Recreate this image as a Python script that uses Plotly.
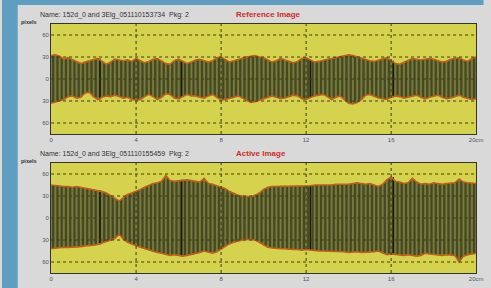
import plotly.graph_objects as go

# ---------------- data ----------------
positions = [round(i * 0.2, 1) for i in range(101)]  # cm

ref_upper = [32, 33, 31, 27, 29, 26, 24, 21, 23, 25,
             27, 28, 24, 20, 23, 27, 26, 25, 26, 24,
             28, 25, 22, 24, 27, 28, 25, 21, 20, 25,
             27, 24, 21, 23, 26, 27, 25, 23, 25, 29,
             30, 26, 23, 25, 27, 29, 30, 31, 32, 30,
             29, 26, 23, 25, 28, 26, 24, 22, 24, 28,
             29, 26, 23, 24, 26, 27, 28, 29, 30, 32,
             33, 32, 30, 28, 26, 25, 24, 26, 28, 29,
             25, 21, 20, 23, 26, 28, 27, 26, 27, 28,
             27, 25, 23, 24, 27, 28, 29, 26, 24, 28, 30]

ref_lower = [33, 31, 30, 28, 24, 23, 26, 25, 19, 18,
             24, 28, 25, 23, 24, 22, 24, 26, 25, 28,
             29, 28, 24, 21, 24, 28, 25, 20, 21, 26,
             27, 24, 21, 23, 23, 25, 26, 23, 21, 25,
             29, 28, 27, 25, 23, 26, 30, 32, 31, 29,
             27, 25, 23, 25, 27, 26, 24, 22, 23, 27,
             28, 25, 23, 22, 21, 24, 28, 25, 23, 28,
             33, 34, 32, 28, 22, 21, 24, 26, 27, 28,
             25, 23, 24, 26, 25, 23, 22, 25, 27, 25,
             23, 22, 25, 27, 26, 24, 22, 25, 27, 28, 27]

act_upper = [45, 44, 44, 43, 43, 42, 43, 42, 41, 40,
             39, 38, 36, 34, 31, 27, 23, 28, 32, 34,
             36, 39, 42, 45, 47, 48, 50, 58, 51, 50,
             51, 52, 52, 51, 50, 49, 54, 47, 46, 44,
             43, 40, 36, 33, 31, 30, 30, 29, 31, 34,
             39, 42, 43, 43, 44, 44, 43, 44, 44, 43,
             44, 44, 45, 45, 44, 45, 45, 46, 46, 45,
             46, 47, 48, 47, 46, 47, 45, 43, 46, 52,
             56, 50, 49, 47, 48, 54, 49, 46, 47, 46,
             48, 47, 46, 47, 48, 48, 53, 49, 48, 48, 47]

act_lower = [42, 41, 41, 40, 40, 40, 39, 39, 38, 38,
             37, 36, 34, 32, 31, 28, 22, 29, 33, 36,
             38, 40, 42, 44, 46, 47, 48, 49, 51, 50,
             51, 52, 51, 50, 49, 47, 45, 47, 48, 46,
             42, 38, 35, 33, 31, 30, 29, 29, 30, 33,
             37, 40, 41, 42, 42, 42, 43, 43, 43, 44,
             43, 44, 44, 45, 45, 45, 46, 46, 46, 46,
             47, 46, 46, 47, 47, 47, 46, 45, 48, 50,
             49, 50, 50, 51, 50, 51, 52, 51, 48, 49,
             50, 50, 51, 50, 50, 51, 60, 52, 50, 49, 48]

marker_cm = [2.3, 6.15, 12.2, 16.1]
x_tick_vals = [0, 4, 8, 12, 16, 20]
x_tick_text = ["0", "4", "8", "12", "16", "20cm"]
y_tick_vals = [-60, -30, 0, 30, 60]
y_tick_text = ["60", "30", "0", "30", "60"]
grid_x = [4, 8, 12, 16]
grid_y = [-60, -30, 0, 30, 60]

panels = [
    dict(upper=ref_upper, lower=ref_lower, xa="x", ya="y",
         name="Name: 152d_0 and 3Elg_051110153734  Pkg: 2", title="Reference Image",
         top=24, bottom=134),
    dict(upper=act_upper, lower=act_lower, xa="x2", ya="y2",
         name="Name: 152d_0 and 3Elg_051110155459  Pkg: 2", title="Active Image",
         top=163, bottom=273),
]

W, H = 491, 288
PLOT_L, PLOT_R = 50, 483
PANEL = "#d9d9d9"
BLUE = "#5f9ec0"
YELLOW = "#d5d24d"
DARK = "#464822"
LIGHT = "#767a3c"
EDGE = "#c05e1c"
GRID = "#3e3c14"

fig = go.Figure()
shapes = []
annotations = []


def segments(xs, y0s, y1s):
    sx, sy = [], []
    for x, a, b in zip(xs, y0s, y1s):
        sx += [x, x, None]
        sy += [a, b, None]
    return sx, sy


for p in panels:
    up, lo = p["upper"], p["lower"]
    neg = [-v for v in lo]
    # dark envelope
    fig.add_trace(go.Scatter(
        x=positions + positions[::-1], y=up + neg[::-1],
        fill="toself", fillcolor=DARK, line=dict(width=0),
        mode="lines", hoverinfo="skip", showlegend=False,
        xaxis=p["xa"], yaxis=p["ya"]))
    # lighter stripes (one vertical bar per sample)
    sx, sy = segments(positions, neg, up)
    fig.add_trace(go.Scatter(
        x=sx, y=sy, mode="lines", line=dict(color=LIGHT, width=2),
        hoverinfo="skip", showlegend=False, xaxis=p["xa"], yaxis=p["ya"]))
    # black marker lines
    idx = [round(m / 0.2) for m in marker_cm]
    mx, my = segments(marker_cm, [-lo[i] for i in idx], [up[i] for i in idx])
    fig.add_trace(go.Scatter(
        x=mx, y=my, mode="lines", line=dict(color="#121208", width=1.2),
        hoverinfo="skip", showlegend=False, xaxis=p["xa"], yaxis=p["ya"]))
    # orange edges
    for ys in (up, neg):
        fig.add_trace(go.Scatter(
            x=positions, y=ys, mode="lines",
            line=dict(color=EDGE, width=1.6), showlegend=False,
            hoverinfo="skip", xaxis=p["xa"], yaxis=p["ya"]))
    # dotted grid drawn above
    for gx in grid_x:
        shapes.append(dict(type="line", xref=p["xa"], yref=p["ya"],
                           x0=gx, x1=gx, y0=-75, y1=75, layer="above",
                           line=dict(color=GRID, width=1, dash="dot")))
    for gy in grid_y:
        shapes.append(dict(type="line", xref=p["xa"], yref=p["ya"],
                           x0=0, x1=20, y0=gy, y1=gy, layer="above",
                           line=dict(color=GRID, width=1, dash="dot")))
    ty = p["top"]
    annotations.append(dict(text=p["name"], x=37 / W, y=1 - (ty - 9) / H,
                            xref="paper", yref="paper", xanchor="left", yanchor="middle",
                            showarrow=False, font=dict(size=7, color="#333333")))
    annotations.append(dict(text="<b>" + p["title"] + "</b>", x=236 / W, y=1 - (ty - 10) / H,
                            xref="paper", yref="paper", xanchor="left", yanchor="middle",
                            showarrow=False, font=dict(size=8, color="#d02a2a")))
    annotations.append(dict(text="<b>pixels</b>", x=17 / W, y=1 - (ty - 2) / H,
                            xref="paper", yref="paper", xanchor="left", yanchor="middle",
                            showarrow=False, font=dict(size=5.5, color="#333333")))

# blue window background around the grey dialog
shapes.append(dict(type="rect", xref="paper", yref="paper", x0=0, x1=16 / W, y0=0, y1=1,
                   fillcolor=BLUE, line=dict(width=0), layer="below"))
shapes.append(dict(type="rect", xref="paper", yref="paper", x0=0, x1=0.999, y0=1 - 5 / H, y1=1,
                   fillcolor=BLUE, line=dict(width=0), layer="below"))

axis_common = dict(range=[0, 20], showgrid=False, zeroline=False, showline=True,
                   mirror=True, linecolor="#333333", linewidth=1,
                   tickvals=x_tick_vals, ticktext=x_tick_text,
                   tickfont=dict(size=6, color="#555555"), ticks="",
                   domain=[PLOT_L / W, PLOT_R / W])
yaxis_common = dict(range=[-75, 75], showgrid=False, zeroline=False, showline=True,
                    mirror=True, linecolor="#333333", linewidth=1,
                    tickvals=y_tick_vals, ticktext=y_tick_text,
                    tickfont=dict(size=6, color="#555555"), ticks="")

fig.update_layout(
    width=W, height=H, margin=dict(l=0, r=0, t=0, b=0),
    paper_bgcolor=PANEL, plot_bgcolor=YELLOW,
    font=dict(family="Liberation Sans, Arial, sans-serif"),
    xaxis=dict(**axis_common, anchor="y"),
    yaxis=dict(**yaxis_common, anchor="x",
               domain=[1 - panels[0]["bottom"] / H, 1 - panels[0]["top"] / H]),
    xaxis2=dict(**axis_common, anchor="y2"),
    yaxis2=dict(**yaxis_common, anchor="x2",
                domain=[1 - panels[1]["bottom"] / H, 1 - panels[1]["top"] / H]),
    shapes=shapes, annotations=annotations, showlegend=False,
)

fig.write_html(
    "out.html", config={"displayModeBar": False},
    post_script=("document.body.style.margin='0';"
                 "document.body.style.overflow='hidden';"
                 "document.body.style.background='" + PANEL + "';"
                 "document.documentElement.style.background='" + PANEL + "';"))
